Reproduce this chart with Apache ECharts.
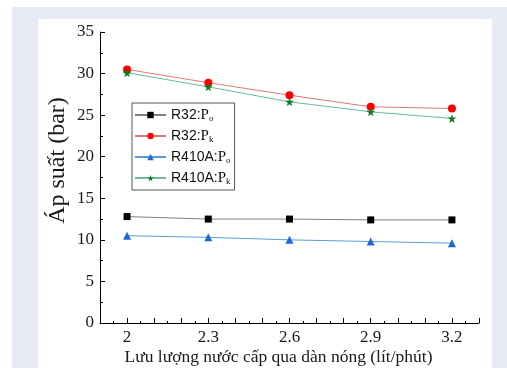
<!DOCTYPE html>
<html>
<head>
<meta charset="utf-8">
<script src="https://cdn.jsdelivr.net/npm/echarts@6/dist/echarts.min.js"></script>
<style>
html,body{margin:0;padding:0;background:#fff;}
#wrap{position:relative;width:507px;height:368px;overflow:hidden;background:#fff;}
#blue{position:absolute;left:12px;top:7px;right:0;bottom:0;background:#e6ebf6;}
#panel{position:absolute;left:38px;top:19px;width:454px;bottom:0;background:#fff;}
#chart{position:absolute;left:0;top:0;width:507px;height:368px;}
</style>
</head>
<body>
<div id="wrap"><div id="blue"></div><div id="panel"></div><div id="chart"></div></div>
<script>
// Data
const flow = [2, 2.3, 2.6, 2.9, 3.2];
const xTickLabels = ['2', '2.3', '2.6', '2.9', '3.2'];
const yTickLabels = ['0', '5', '10', '15', '20', '25', '30', '35'];
const seriesNames = ['R32:Po', 'R32:Pk', 'R410A:Po', 'R410A:Pk'];
const r32Po = [12.8, 12.5, 12.5, 12.4, 12.4];
const r32Pk = [30.5, 28.9, 27.4, 26.0, 25.8];
const r410aPo = [10.5, 10.3, 10.0, 9.8, 9.6];
const r410aPk = [30.1, 28.4, 26.6, 25.4, 24.6];

const star = 'path://M50,0 L61,35 L98,35 L68,57 L79,91 L50,70 L21,91 L32,57 L2,35 L39,35 Z';
const serif = '"Liberation Serif","Times New Roman",serif';
const sans = '"Liberation Sans",Arial,sans-serif';

function pairs(ys){ return flow.map((x,i)=>[x, ys[i]]); }

const styles = [
  {line:'#808080', mark:'#000000', symbol:'rect', size:7},
  {line:'#e07878', mark:'#ff0000', symbol:'circle', size:8},
  {line:'#5b9bd8', mark:'#1e6ad4', symbol:'triangle', size:8},
  {line:'#6cbc98', mark:'#0b7d1a', symbol:star, size:9}
];
const values = [r32Po, r32Pk, r410aPo, r410aPk];

const chart = echarts.init(document.getElementById('chart'), null, {renderer:'canvas'});
chart.setOption({
  backgroundColor: 'transparent',
  animation: false,
  grid: {left:100, top:32, right:28, bottom:45, containLabel:false, outerBoundsMode:'none'},
  legend: {
    orient:'vertical', left:132, top:103,
    data: seriesNames,
    borderColor:'#555', borderWidth:1, borderRadius:0,
    padding:[4,4,4,2],
    itemWidth:31, itemHeight:8, itemGap:5,
    formatter: function(name){
      return '{a|' + name.slice(0,-2) + '}{p|P}{s|' + name.slice(-1) + '}';
    },
    textStyle: {
      rich: {
        a:{fontFamily:sans, fontSize:14, color:'#111', lineHeight:16},
        p:{fontFamily:serif, fontSize:15, color:'#111', lineHeight:16},
        s:{fontFamily:serif, fontSize:9, color:'#111', verticalAlign:'bottom', padding:[7,0,0,0], lineHeight:16}
      }
    }
  },
  xAxis: {
    type:'value', min:1.9, max:3.3, interval:0.1,
    name:'Lưu lượng nước cấp qua dàn nóng (lít/phút)',
    nameLocation:'middle', nameGap:25, nameMoveOverlap:false,
    nameTextStyle:{fontFamily:serif, fontSize:17.5, color:'#1a1a1a', padding:[0,22,0,0]},
    axisLine:{show:true, onZero:false, lineStyle:{color:'#000', width:1}},
    axisTick:{show:true, inside:true, length:5, lineStyle:{color:'#000'}},
    minorTick:{show:true, splitNumber:2, length:2, lineStyle:{color:'#000'}},
    splitLine:{show:false},
    axisLabel:{
      fontFamily:serif, fontSize:17, color:'#1a1a1a', margin:6,
      showMinLabel:true, showMaxLabel:true,
      formatter: function(v){
        const r = Math.round(v*10);
        const idx = flow.findIndex(f => Math.round(f*10) === r);
        return idx >= 0 ? xTickLabels[idx] : '';
      }
    }
  },
  yAxis: {
    type:'value', min:0, max:35, interval:5,
    name:'Áp suất (bar)',
    nameLocation:'middle', nameGap:30, nameRotate:90, nameMoveOverlap:false,
    nameTextStyle:{fontFamily:serif, fontSize:24, color:'#1a1a1a', padding:[0,0,0,34]},
    axisLine:{show:true, onZero:false, lineStyle:{color:'#000', width:1}},
    axisTick:{show:true, inside:true, length:5, lineStyle:{color:'#000'}},
    minorTick:{show:true, splitNumber:2, length:3, lineStyle:{color:'#000'}},
    splitLine:{show:false},
    axisLabel:{
      fontFamily:serif, fontSize:17, color:'#1a1a1a', margin:6,
      formatter: function(v){ return yTickLabels[Math.round(v/5)] || ''; }
    }
  },
  series: seriesNames.map((n,i)=>({
    name:n, type:'line',
    data: pairs(values[i]),
    symbol: styles[i].symbol, symbolSize: styles[i].size,
    showSymbol:true,
    lineStyle:{color:styles[i].line, width:1},
    itemStyle:{color:styles[i].mark},
    z: 2 + i
  }))
});
</script>
</body>
</html>
